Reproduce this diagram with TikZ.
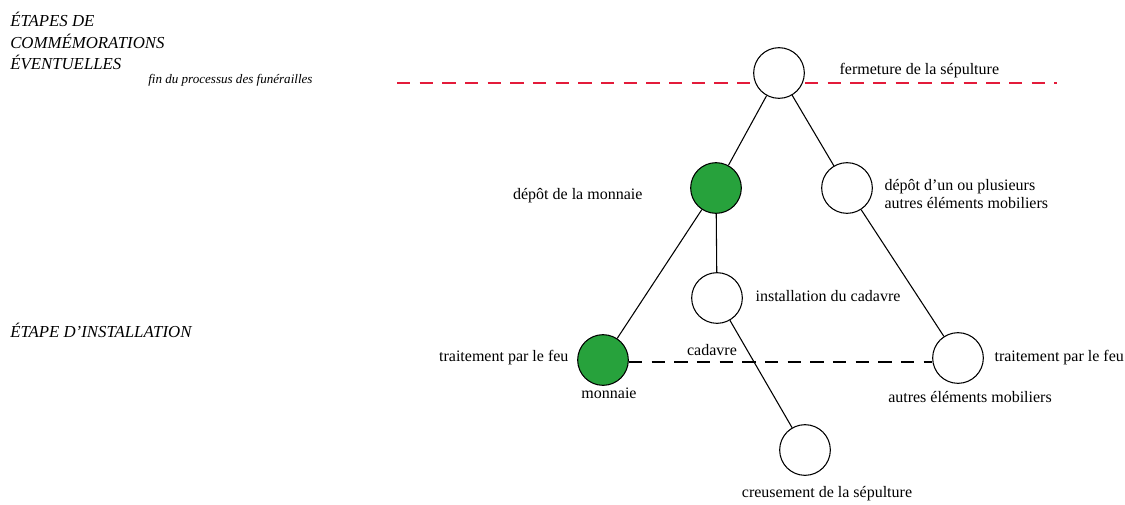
\documentclass[tikz,border=0pt]{standalone}
\usepackage{fontspec}
\setmainfont{Liberation Serif}
\definecolor{rougetrait}{HTML}{E31B3A}
\definecolor{vertpiece}{HTML}{27A23C}
\usetikzlibrary{positioning}
\tikzset{
  stade/.style={circle,draw,thick,fill=white,minimum size=38pt,inner sep=0pt},
  stadevert/.style={stade,fill=vertpiece},
  lbl/.style={font=\fontsize{12}{14}\selectfont,inner sep=1pt},
  etiq/.style={font=\fontsize{12.6}{16}\selectfont\itshape,align=left,inner sep=0pt}
}

\begin{document}
\begin{tikzpicture}[x=0.75pt,y=-0.75pt]
    \useasboundingbox (0,0) rectangle (1125,504);
    % etapes
    \node[etiq,anchor=north west] (commem) at (10,12) {ÉTAPES DE\\COMMÉMORATIONS\\ÉVENTUELLES};
    \node[etiq,font=\fontsize{9.8}{12}\selectfont\itshape,anchor=west] (finproc) at (148,80) {fin du processus des funérailles};
    \node[etiq,anchor=west] (install) at (10,330) {ÉTAPE D'INSTALLATION};
    % ligne de fin
    \coordinate (fing) at (397,83);
    \coordinate (find) at (1057,83);
    \draw[rougetrait,thick,dash pattern=on 10pt off 7pt] (fing) -- (find);
    % noeuds
    \node[stade] (ferm) at (779,73) {};
    \node[stadevert] (monn) at (716,188) {};
    \node[stade] (depot) at (847,188) {};
    \node[stade] (cad) at (717,298) {};
    \node[stadevert] (feu) at (603,360) {};
    \node[stade] (feumob) at (958,358) {};
    \node[stade] (creus) at (805,450) {};
    % liens
    \draw[thick] (ferm) -- (monn);
    \draw[thick] (ferm) -- (depot);
    \draw[thick] (monn) -- (cad);
    \draw[thick] (monn) -- (feu);
    \draw[thick] (cad) -- (creus);
    \draw[thick] (depot) -- (feumob);
    \draw[thick,dash pattern=on 10pt off 7pt] (feu.east) ++(0,2) -- (feumob.west |- 0,362);
    % textes
    \node[lbl,anchor=west] at (838,71) {fermeture de la sépulture};
    \node[lbl,anchor=east] at (644,196) {dépôt de la monnaie};
    \node[lbl,anchor=west,align=left] at (883,194) {dépôt d'un ou plusieurs\\autres éléments mobiliers};
    \node[lbl,anchor=west] at (754,296) {installation du cadavre};
    \node[lbl,anchor=east] at (570,358) {traitement par le feu};
    \node[lbl] at (609,393) {monnaie};
    \node[lbl] at (712,350) {cadavre};
    \node[lbl,anchor=west] at (993,358) {traitement par le feu};
    \node[lbl] at (970,397) {autres éléments mobiliers};
    \node[lbl] at (827,494) {creusement de la sépulture};
\end{tikzpicture}
\end{document}
